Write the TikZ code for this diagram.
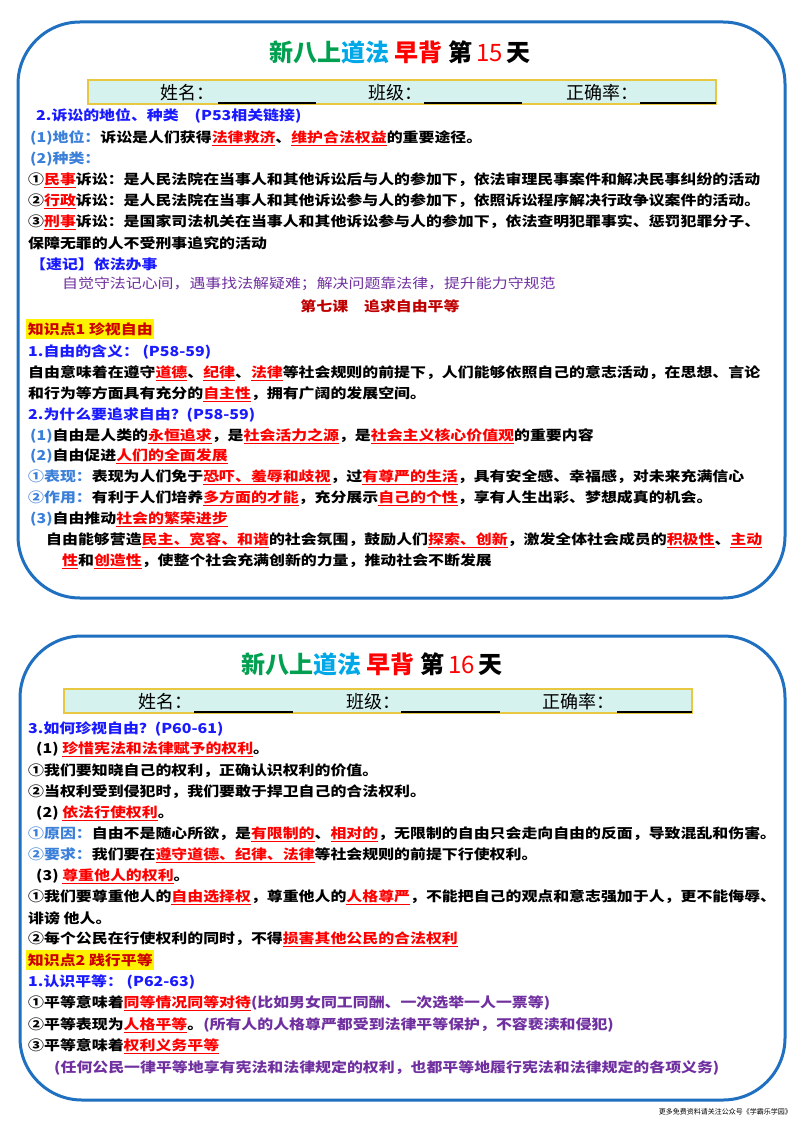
\documentclass[tikz,border=0pt]{standalone}
\usepackage{fontspec}
\newfontfamily\cjk{Noto Sans CJK SC}
\definecolor{frame}{HTML}{1F70C1}
\definecolor{hblue}{HTML}{1A1AFF}
\definecolor{lblue}{HTML}{3A7FD9}
\definecolor{purp}{HTML}{7030A0}
\definecolor{dred}{HTML}{C00000}
\definecolor{tgreen}{HTML}{00A050}
\definecolor{tcyan}{HTML}{00A8E8}
\definecolor{barbg}{HTML}{D5F2EE}
\definecolor{bargold}{HTML}{E8C840}
\newcommand\R[1]{\textcolor{red}{\underline{#1}}}
\newcommand\B[1]{\textcolor{lblue}{#1}}
\tikzset{
 txt/.style={anchor=west,inner sep=0pt,transform shape,xscale=1.17,font=\cjk\fontsize{13.6}{15}\selectfont\bfseries},
 card/.style={draw=frame,line width=3pt,rounded corners=62pt},
 ttl/.style={inner sep=0pt,font=\cjk\fontsize{24}{26}\selectfont\bfseries},
 bar/.style={fill=barbg,draw=bargold,line width=1.5pt},
 lab/.style={anchor=west,inner sep=0pt,font=\cjk\fontsize{18}{20}\selectfont},
 blank/.style={line width=2pt},
 hl/.style={fill=yellow,anchor=west,inner xsep=1.5pt,inner ysep=3pt,font=\cjk\fontsize{13.6}{15}\selectfont\bfseries}
}
\begin{document}
\begin{tikzpicture}[x=1pt,y=-1pt]
\useasboundingbox (0,0) rectangle (800,1131);
\fill[white] (0,0) rectangle (800,1131);
% cards
\draw[card] (18,22) rectangle (785,598);
\draw[card] (20,636) rectangle (785,1100);
% ---- card 1
\node[ttl] (t1) at (400,52) {\textcolor{tgreen}{新八上}\textcolor{tcyan}{道法}\ \textcolor{red}{早背}\ 第\,\textcolor{red}{\mdseries 15}\,天};
\draw[bar] (88,80) rectangle (716,104);
\node[lab] (n1) at (160,93) {姓名：};
\draw[blank] (218,103) -- (316,103);
\node[lab] (c1) at (368,93) {班级：};
\draw[blank] (424,103) -- (522,103);
\node[lab] (r1) at (566,93) {正确率：};
\draw[blank] (640,103) -- (716,103);
\begin{scope}[every node/.style={txt}]
\node (a1) at (36,116) {\textcolor{hblue}{2.诉讼的地位、种类\quad (P53相关链接)}};
\node (a2) at (30,138) {\B{(1)地位：}诉讼是人们获得\R{法律救济}、\R{维护合法权益}的重要途径。};
\node (a3) at (30,159) {\B{(2)种类：}};
\node (a4) at (28,180) {①\R{民事}诉讼：是人民法院在当事人和其他诉讼后与人的参加下，依法审理民事案件和解决民事纠纷的活动};
\node (a5) at (28,201) {②\R{行政}诉讼：是人民法院在当事人和其他诉讼参与人的参加下，依照诉讼程序解决行政争议案件的活动。};
\node (a6) at (28,222) {③\R{刑事}诉讼：是国家司法机关在当事人和其他诉讼参与人的参加下，依法查明犯罪事实、惩罚犯罪分子、};
\node (a7) at (28,243) {保障无罪的人不受刑事追究的活动};
\node (a8) at (30,264) {\textcolor{hblue}{【速记】依法办事}};
\node (a9) at (62,284) {\textcolor{purp}{\mdseries 自觉守法记心间，遇事找法解疑难；解决问题靠法律，提升能力守规范}};
\node[anchor=center] (a10) at (380,306) {\textcolor{dred}{第七课\quad 追求自由平等}};
\node[hl,text=red!80!black] (a11) at (26,329) {知识点1 珍视自由};
\node (a12) at (28,352) {\textcolor{hblue}{1.自由的含义：\ (P58-59)}};
\node (a13) at (28,373) {自由意味着在遵守\R{道德}、\R{纪律}、\R{法律}等社会规则的前提下，人们能够依照自己的意志活动，在思想、言论};
\node (a14) at (28,394) {和行为等方面具有充分的\R{自主性}，拥有广阔的发展空间。};
\node (a15) at (28,415) {\textcolor{hblue}{2.为什么要追求自由？(P58-59)}};
\node (a16) at (30,436) {\B{(1)}自由是人类的\R{永恒追求}，是\R{社会活力之源}，是\R{社会主义核心价值观}的重要内容};
\node (a17) at (30,456) {\B{(2)}自由促进\R{人们的全面发展}};
\node (a18) at (28,477) {\B{①表现：}表现为人们免于\R{恐吓、羞辱和歧视}，过\R{有尊严的生活}，具有安全感、幸福感，对未来充满信心};
\node (a19) at (28,498) {\B{②作用：}有利于人们培养\R{多方面的才能}，充分展示\R{自己的个性}，享有人生出彩、梦想成真的机会。};
\node (a20) at (30,519) {\B{(3)}自由推动\R{社会的繁荣进步}};
\node (a21) at (46,540) {自由能够营造\R{民主、宽容、和谐}的社会氛围，鼓励人们\R{探索、创新}，激发全体社会成员的\R{积极性}、\R{主动}};
\node (a22) at (62,561) {\R{性}和\R{创造性}，使整个社会充满创新的力量，推动社会不断发展};
\end{scope}
% ---- card 2
\node[ttl] (t2) at (372,664) {\textcolor{tgreen}{新八上}\textcolor{tcyan}{道法}\ \textcolor{red}{早背}\ 第\,\textcolor{red}{\mdseries 16}\,天};
\draw[bar] (64,689) rectangle (692,713);
\node[lab] (n2) at (138,702) {姓名：};
\draw[blank] (194,712) -- (293,712);
\node[lab] (c2) at (346,702) {班级：};
\draw[blank] (401,712) -- (500,712);
\node[lab] (r2) at (542,702) {正确率：};
\draw[blank] (617,712) -- (692,712);
\begin{scope}[every node/.style={txt}]
\node (b1) at (28,729) {\textcolor{hblue}{3.如何珍视自由？(P60-61)}};
\node (b2) at (36,749) {(1)\ \R{珍惜宪法和法律赋予的权利}。};
\node (b3) at (28,771) {①我们要知晓自己的权利，正确认识权利的价值。};
\node (b4) at (28,792) {②当权利受到侵犯时，我们要敢于捍卫自己的合法权利。};
\node (b5) at (36,813) {(2)\ \R{依法行使权利}。};
\node (b6) at (28,834) {\B{①原因：}自由不是随心所欲，是\R{有限制的}、\R{相对的}，无限制的自由只会走向自由的反面，导致混乱和伤害。};
\node (b7) at (28,855) {\B{②要求：}我们要在\R{遵守道德、纪律、法律}等社会规则的前提下行使权利。};
\node (b8) at (36,876) {(3)\ \R{尊重他人的权利}。};
\node (b9) at (28,897) {①我们要尊重他人的\R{自由选择权}，尊重他人的\R{人格尊严}，不能把自己的观点和意志强加于人，更不能侮辱、};
\node (b10) at (28,918) {诽谤\ 他人。};
\node (b11) at (28,939) {②每个公民在行使权利的同时，不得\R{损害其他公民的合法权利}};
\node[hl,text=red!80!black] (b12) at (26,960) {知识点2 践行平等};
\node (b13) at (28,982) {\textcolor{hblue}{1.认识平等：\ (P62-63)}};
\node (b14) at (28,1003) {①平等意味着\R{同等情况同等对待}\textcolor{purp}{(比如男女同工同酬、一次选举一人一票等)}};
\node (b15) at (28,1025) {②平等表现为\R{人格平等}。\textcolor{purp}{(所有人的人格尊严都受到法律平等保护，不容亵渎和侵犯)}};
\node (b16) at (28,1046) {③平等意味着\R{权利义务平等}};
\node (b17) at (54,1068) {\textcolor{purp}{(任何公民一律平等地享有宪法和法律规定的权利，也都平等地履行宪法和法律规定的各项义务)}};
\end{scope}
\node[anchor=east,inner sep=0pt,font=\cjk\fontsize{7}{8}\selectfont] (ft) at (792,1112) {更多免费资料请关注公众号《学霸乐学园》};
\end{tikzpicture}
\end{document}
